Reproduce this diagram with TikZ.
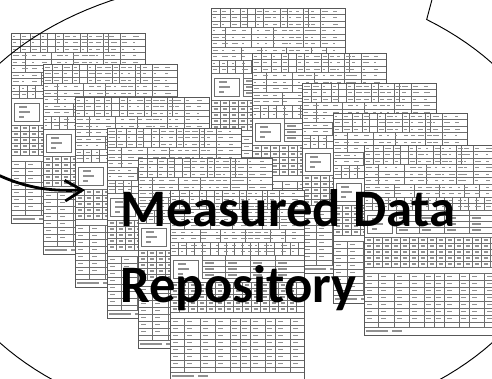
\documentclass[tikz,border=0pt]{standalone}
\usepackage{fontspec}
\setmainfont{Carlito}
\usepackage{tikz}
\usetikzlibrary{arrows.meta}
\definecolor{encre}{RGB}{0,0,0}
\definecolor{grille}{RGB}{110,110,110}
\definecolor{ecriture}{RGB}{145,145,145}

\tikzset{
  trait/.style={grille,line width=0.7pt},
  ecrit/.style={ecriture,line width=1.1pt},
  bord/.style={grille!80!black,line width=0.7pt},
  titre/.style={anchor=base west,inner sep=0,text=encre,font=\fontsize{45}{54}\selectfont\bfseries},
  fleche/.style={encre,line width=2.4pt,-{Straight Barb[length=5.2mm,width=6.2mm]}},
  contour/.style={encre,line width=0.8pt}
}

% une fiche de mesures (134 x 190 px), coin haut-gauche en (#1,#2)
\newcommand{\feuille}[2]{%
  \begin{scope}[shift={(#1,#2)}]
    \fill[white] (0,0) rectangle (134,190);
    % --- En-tête ---
    \foreach \yy in {6.5,13,...,65}
      \draw[trait] (0,\yy) -- (134,\yy);
    \foreach \xx in {9,19,29,36,44,52,69,76,92,97,109}
      \draw[trait] (\xx,0) -- (\xx,19.5);
    \foreach \xx in {14,40,62,92,109}
      \draw[trait] (\xx,19.5) -- (\xx,39);
    \foreach \xx in {30,50,75,100,115}
      \draw[trait] (\xx,39) -- (\xx,52);
    \foreach \xx in {8,16,...,128}
      \draw[trait] (\xx,52) -- (\xx,65);
    \foreach \rr in {0,...,9}{
      \foreach \xx in {2,11,21,31,46,54,62,71,78,85,94,100,111,122}{
        \pgfmathsetmacro{\ll}{1.5+5*rnd}
        \draw[ecrit] (\xx,{\rr*6.5+3.3}) -- ++(\ll,0);
      }
    }
    % --- Bloc Flags ---
    \draw[trait] (3,70) rectangle (28,88);
    \draw[ecrit] (8,74) -- ++(8,0) (8,79) -- ++(11,0) (8,84) -- ++(5,0);
    \foreach \yy in {70,76,82,88}
      \draw[trait] (32,\yy) -- (134,\yy);
    \foreach \xx in {32,55,80,105}
      \draw[trait] (\xx,65) -- (\xx,88);
    \foreach \xx in {35,58,83,108}
      \foreach \yy in {73,79,85}
        \draw[ecrit] (\xx,\yy) -- ++(9,0);
    % --- Grille de relevés ---
    \foreach \yy in {92,98,...,122}
      \draw[trait] (0,\yy) -- (134,\yy);
    \foreach \xx in {0,9,...,126}
      \draw[trait] (\xx,92) -- (\xx,122);
    \foreach \xx in {2.5,11.5,...,128}
      \foreach \yy in {95,101,...,119}
        \draw[ecrit] (\xx,\yy) -- ++(4,0);
    % --- Tableau du bas ---
    \draw[trait] (0,128) rectangle (134,182);
    \foreach \yy in {135,142,...,177}
      \draw[trait] (0,\yy) -- (134,\yy);
    \foreach \xx in {14,30,45,60,70,80,95,105,120}
      \draw[trait] (\xx,128) -- (\xx,182);
    \foreach \xx in {3,17,33,48,62,72,83,97,108,123}
      \foreach \yy in {131.5,138.5,...,180}
        \draw[ecrit] (\xx,\yy) -- ++(5,0);
    \draw[ecrit] (2,186) -- ++(22,0) (28,186) -- ++(10,0);
    % --- Cadre ---
    \draw[bord] (0,0) rectangle (134,190);
  \end{scope}}

\begin{document}
\begin{tikzpicture}[x=0.03cm,y=-0.03cm]
  \useasboundingbox (0,0) rectangle (492,378);
  \clip (0,0) rectangle (492,378);

  % --- Pile de droite ---
  \foreach \px/\py in {211/8,252/53,302/83,333/113,364/145}
    \feuille{\px}{\py};

  % --- Pile de gauche ---
  \foreach \px/\py in {11/33,43/64,75/97,107/128,138/158,170/190}
    \feuille{\px}{\py};

  % --- Bulle ---
  \draw[contour] (434,-8) -- plot[domain=-55:270,samples=140]
    ({246+315*cos(\x)},{203+224*sin(\x)});

  % --- Titre ---
  \node[titre] (titre1) at (120,226) {Measured Data};
  \node[titre] (titre2) at (120,302) {Repository};

  % --- Flèche entrante ---
  \coordinate (depart) at (-4,174);
  \coordinate (pointe) at (85,190);
  \draw[fleche] (depart) .. controls (30,190) and (55,191) .. (pointe);
\end{tikzpicture}
\end{document}
